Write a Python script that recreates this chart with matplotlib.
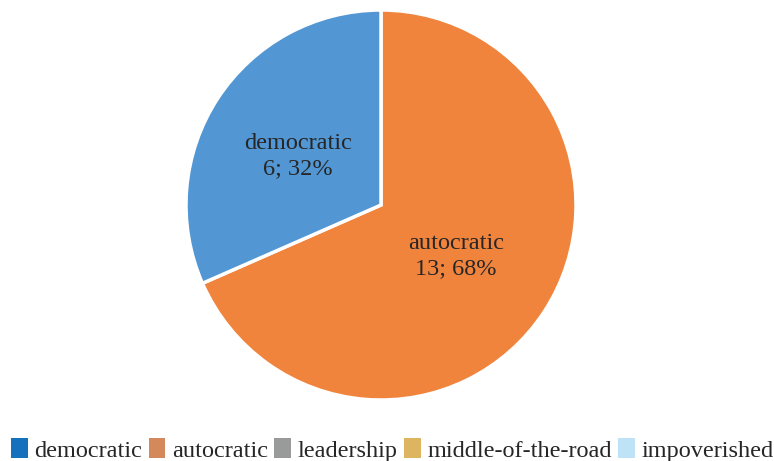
import matplotlib
matplotlib.use("Agg")
import matplotlib.pyplot as plt
import matplotlib.patches as mpatches
import numpy as np

categories = ["democratic", "autocratic", "leadership", "middle-of-the-road", "impoverished"]
values = [6, 13, 0, 0, 0]
pie_colors = {"democratic": "#5296D3", "autocratic": "#F0843D"}
legend_colors = ["#1570BE", "#D4895C", "#999B9B", "#DDB561", "#BEE3F7"]

plt.rcParams['font.family'] = ['Liberation Serif', 'DejaVu Serif']
W, H = 774, 461
fig = plt.figure(figsize=(W / 100, H / 100), dpi=100)
cx, cy, r = 381, 205, 195
ax = fig.add_axes([(cx - r) / W, (H - cy - r) / H, 2 * r / W, 2 * r / H])

# draw order: autocratic first clockwise from top, then democratic
order = [1, 0]
vals = [values[i] for i in order]
cols = [pie_colors[categories[i]] for i in order]
wedges, _ = ax.pie(vals, colors=cols, startangle=90, counterclock=False,
                   wedgeprops=dict(edgecolor="white", linewidth=2.5), radius=1)
ax.set_xlim(-1, 1)
ax.set_ylim(-1, 1)
ax.set_aspect("equal")
ax.axis("off")

total = sum(values)
dists = {0: 0.51, 1: 0.46}
offsets = {0: (0, -4), 1: (0, -1.5)}
for w, i in zip(wedges, order):
    mid = np.deg2rad((w.theta1 + w.theta2) / 2)
    d = dists[i]
    pct = round(values[i] / total * 100)
    ax.annotate(f"{categories[i]}\n{values[i]}; {pct}%",
                xy=(d * np.cos(mid), d * np.sin(mid)), xytext=offsets[i],
                textcoords="offset points",
                ha="center", va="center", fontsize=17.5, color="#262626", linespacing=1.3)

handles = [mpatches.Patch(facecolor=c, edgecolor="none") for c in legend_colors]
fig.legend(handles, categories, loc="center", bbox_to_anchor=(0.507, 1 - 450 / H),
           ncol=5, frameon=False, fontsize=17.5, handlelength=0.68, handleheight=0.85,
           handletextpad=0.28, columnspacing=0.26, labelcolor="#262626",
           borderpad=0, borderaxespad=0)

fig.savefig("out.png", dpi=100)
